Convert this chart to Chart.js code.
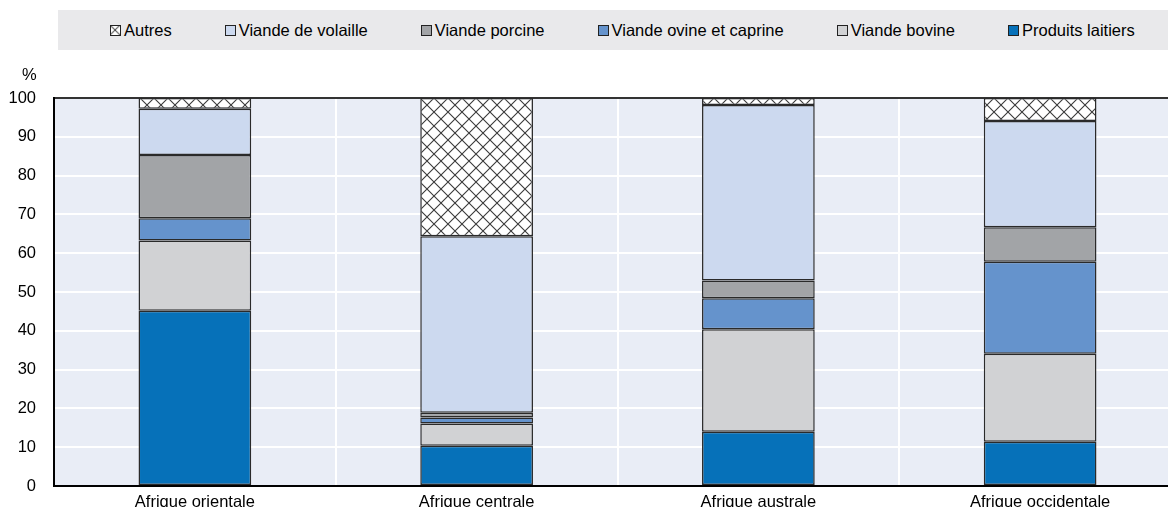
<!DOCTYPE html>
<html>
<head>
<meta charset="utf-8">
<script src="https://cdn.jsdelivr.net/npm/chart.js@4.4.1/dist/chart.umd.min.js"></script>
<style>
  html, body { margin: 0; padding: 0; background: #fff; overflow: hidden; width: 1168px; height: 511px; }
  body { position: relative; }
  #wrap { position: absolute; left: 0; top: 0; width: 1168px; height: 511px; overflow: hidden; }
  #c { display: block; }
  #legend { position: absolute; left: 58px; top: 10px; width: 1110px; height: 40px; background: #e9e9eb;
    display: flex; align-items: center; padding-left: 52px; box-sizing: border-box;
    font-family: "Liberation Sans", Arial, sans-serif; font-size: 16.5px; color: #000; }
  .item { display: flex; align-items: center; margin-right: 53px; white-space: nowrap; }
  .mk { width: 9px; height: 9px; border: 1px solid #222; margin-right: 3px; box-sizing: content-box; }
  #pct { position: absolute; left: 22px; top: 65px; font-family: "Liberation Sans", Arial, sans-serif; font-size: 16.5px; }
</style>
</head>
<body>
<div id="wrap"><canvas id="c" width="1182" height="514"></canvas></div>
<div id="legend"></div>
<div id="pct">%</div>
<script>
const categories = ['Afrique orientale', 'Afrique centrale', 'Afrique australe', 'Afrique occidentale'];
const produitsLaitiers = [45.2, 10.4, 14.0, 11.4];
const viandeBovine = [18.1, 5.7, 26.4, 22.7];
const viandeOvine = [5.7, 1.6, 8.0, 23.7];
const viandePorcine = [16.3, 1.2, 4.6, 8.9];
const viandeVolaille = [11.9, 45.5, 45.2, 27.4];
const autres = [2.8, 35.6, 1.8, 5.9];
const yTicks = [0, 10, 20, 30, 40, 50, 60, 70, 80, 90, 100];

const FONT = '"Liberation Sans", Arial, sans-serif';

// crosshatch pattern
const pc = document.createElement('canvas');
pc.width = 14; pc.height = 14;
const p = pc.getContext('2d');
p.fillStyle = '#fff'; p.fillRect(0, 0, 14, 14);
p.strokeStyle = '#3a3a3a'; p.lineWidth = 1.1;
p.beginPath();
p.moveTo(-1, -1); p.lineTo(15, 15);
p.moveTo(15, -1); p.lineTo(-1, 15);
p.stroke();
const ctx = document.getElementById('c').getContext('2d');
const hatch = ctx.createPattern(pc, 'repeat');

const datasets = [
  { label: 'Produits laitiers', data: produitsLaitiers, backgroundColor: '#0671b9' },
  { label: 'Viande bovine', data: viandeBovine, backgroundColor: '#d1d2d4' },
  { label: 'Viande ovine et caprine', data: viandeOvine, backgroundColor: '#6593cc' },
  { label: 'Viande porcine', data: viandePorcine, backgroundColor: '#a2a4a7' },
  { label: 'Viande de volaille', data: viandeVolaille, backgroundColor: '#ccd9ef' },
  { label: 'Autres', data: autres, backgroundColor: hatch, legendBg: 'url(' + pc.toDataURL() + ')' }
].map(d => Object.assign(d, { borderColor: '#2a2a2a', borderWidth: 1.5, borderSkipped: false, categoryPercentage: 1, barPercentage: 0.4 }));

const bgPlugin = {
  id: 'plotbg',
  beforeDraw(chart) {
    const { ctx, chartArea: a } = chart;
    ctx.save();
    ctx.fillStyle = '#e9edf6';
    ctx.fillRect(a.left, a.top, a.right - a.left, a.bottom - a.top);
    ctx.restore();
  }
};

new Chart(ctx, {
  type: 'bar',
  data: { labels: categories, datasets },
  plugins: [bgPlugin],
  options: {
    responsive: false,
    animation: false,
    layout: { padding: { top: 98, right: 1, left: 0, bottom: 0 } },
    plugins: { legend: { display: false }, tooltip: { enabled: false } },
    scales: {
      x: {
        stacked: true,
        grid: { color: '#ffffff', lineWidth: 2, drawTicks: false, offset: true },
        border: { color: '#000', width: 2 },
        ticks: { color: '#000', font: { family: FONT, size: 16.5 }, padding: 6, maxRotation: 0 },
        afterFit(s) { s.height = 21; }
      },
      y: {
        stacked: true,
        min: 0, max: 100,
        afterBuildTicks(s) { s.ticks = yTicks.map(v => ({ value: v })); },
        grid: { color: c => (c.tick && c.tick.value === 100) ? '#333333' : '#ffffff', lineWidth: 2, drawTicks: false },
        border: { color: '#000', width: 2 },
        ticks: { color: '#000', font: { family: FONT, size: 16.5 }, padding: 18 },
        afterFit(s) { s.width = 54; }
      }
    }
  }
});

// HTML legend built from datasets (reversed order)
const leg = document.getElementById('legend');
datasets.slice().reverse().forEach(d => {
  const it = document.createElement('div'); it.className = 'item';
  const mk = document.createElement('span'); mk.className = 'mk';
  if (d.legendBg) { mk.style.backgroundImage = d.legendBg; mk.style.backgroundSize = '12px 12px'; mk.style.backgroundPosition = '-2px -2px'; }
  else mk.style.background = d.backgroundColor;
  const tx = document.createElement('span'); tx.textContent = d.label;
  it.appendChild(mk); it.appendChild(tx); leg.appendChild(it);
});
</script>
</body>
</html>
